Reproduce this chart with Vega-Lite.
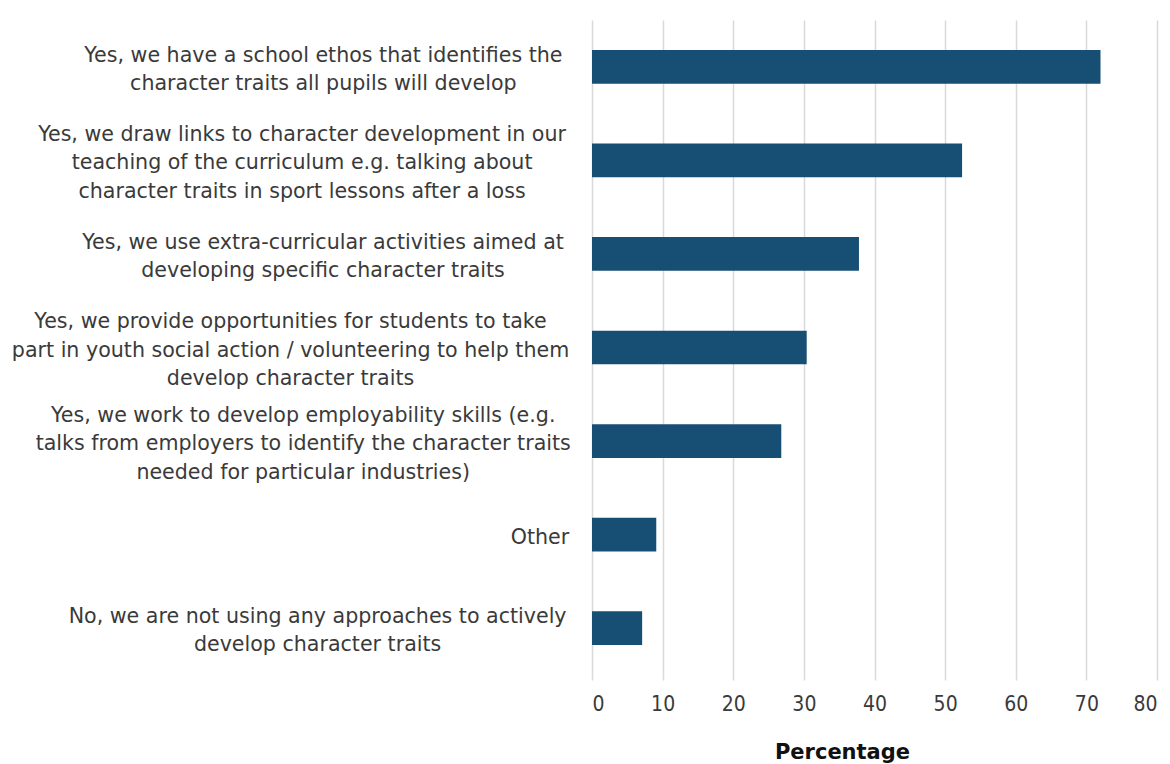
{
  "$schema": "https://vega.github.io/schema/vega-lite/v6.json",
  "width": 565,
  "height": 655,
  "autosize": "none",
  "padding": {"left": 592, "top": 20, "right": 13, "bottom": 89},
  "background": "white",
  "data": {
    "values": [
      {"approach": "Yes, we have a school ethos that identifies the|character traits all pupils will develop", "percentage": 72.0},
      {"approach": "Yes, we draw links to character development in our|teaching of the curriculum e.g. talking about|character traits in sport lessons after a loss", "percentage": 52.4},
      {"approach": "Yes, we use extra-curricular activities aimed at|developing specific character traits", "percentage": 37.8},
      {"approach": "Yes, we provide opportunities for students to take|part in youth social action / volunteering to help them|develop character traits", "percentage": 30.4},
      {"approach": "Yes, we work to develop employability skills (e.g.|talks from employers to identify the character traits|needed for particular industries)", "percentage": 26.8},
      {"approach": "Other", "percentage": 9.1},
      {"approach": "No, we are not using any approaches to actively|develop character traits", "percentage": 7.1}
    ]
  },
  "mark": {"type": "bar", "color": "#174e74"},
  "encoding": {
    "y": {
      "field": "approach",
      "type": "nominal",
      "sort": null,
      "scale": {"paddingInner": 0.64, "paddingOuter": 0.32},
      "axis": {
        "title": null,
        "ticks": false,
        "tickSize": 0,
        "domain": false,
        "labelPadding": 27,
        "labelAlign": "center",
        "labelBaseline": "middle",
        "labelExpr": "split(datum.label, '|')",
        "labelFont": "DejaVu Sans",
        "labelFontSize": 20.6,
        "labelLineHeight": 28.5,
        "labelColor": "#3a3a3a",
        "labelLimit": 800,
        "encoding": {
          "labels": {
            "dy": {"value": {"expr": "3 - (length(split(datum.label, '|')) - 1) * 14.25"}},
            "dx": {"value": {"expr": "-0.5 * max(12.51 * length(split(datum.label, '|')[0]) - 5.74 * length(replace(split(datum.label, '|')[0], regexp('[^iljtfr ,.()/-]', 'g'), '')) + 5.4 * length(replace(split(datum.label, '|')[0], regexp('[^mwMW]', 'g'), '')), 12.51 * length(split(datum.label, '|')[1] || '') - 5.74 * length(replace(split(datum.label, '|')[1] || '', regexp('[^iljtfr ,.()/-]', 'g'), '')) + 5.4 * length(replace(split(datum.label, '|')[1] || '', regexp('[^mwMW]', 'g'), '')), 12.51 * length(split(datum.label, '|')[2] || '') - 5.74 * length(replace(split(datum.label, '|')[2] || '', regexp('[^iljtfr ,.()/-]', 'g'), '')) + 5.4 * length(replace(split(datum.label, '|')[2] || '', regexp('[^mwMW]', 'g'), '')))"}}
          }
        }
      }
    },
    "x": {
      "field": "percentage",
      "type": "quantitative",
      "scale": {"domain": [0, 80], "nice": false},
      "axis": {
        "title": "Percentage",
        "titleFont": "DejaVu Sans",
        "titleFontSize": 21,
        "titleFontWeight": "bold",
        "titleColor": "#111111",
        "titleX": 250,
        "titleY": 83,
        "titleAlign": "center",
        "titleBaseline": "alphabetic",
        "values": [0, 10, 20, 30, 40, 50, 60, 70, 80],
        "grid": true,
        "gridColor": "#d9d9d9",
        "gridWidth": 1.5,
        "domain": false,
        "ticks": true,
        "tickSize": 5,
        "tickColor": "#d9d9d9",
        "tickWidth": 1.5,
        "labelPadding": 30,
        "labelBaseline": "alphabetic",
        "labelFont": "DejaVu Sans Condensed",
        "labelFontSize": 21,
        "labelColor": "#3a3a3a"
      }
    }
  },
  "config": {"view": {"stroke": null}}
}
